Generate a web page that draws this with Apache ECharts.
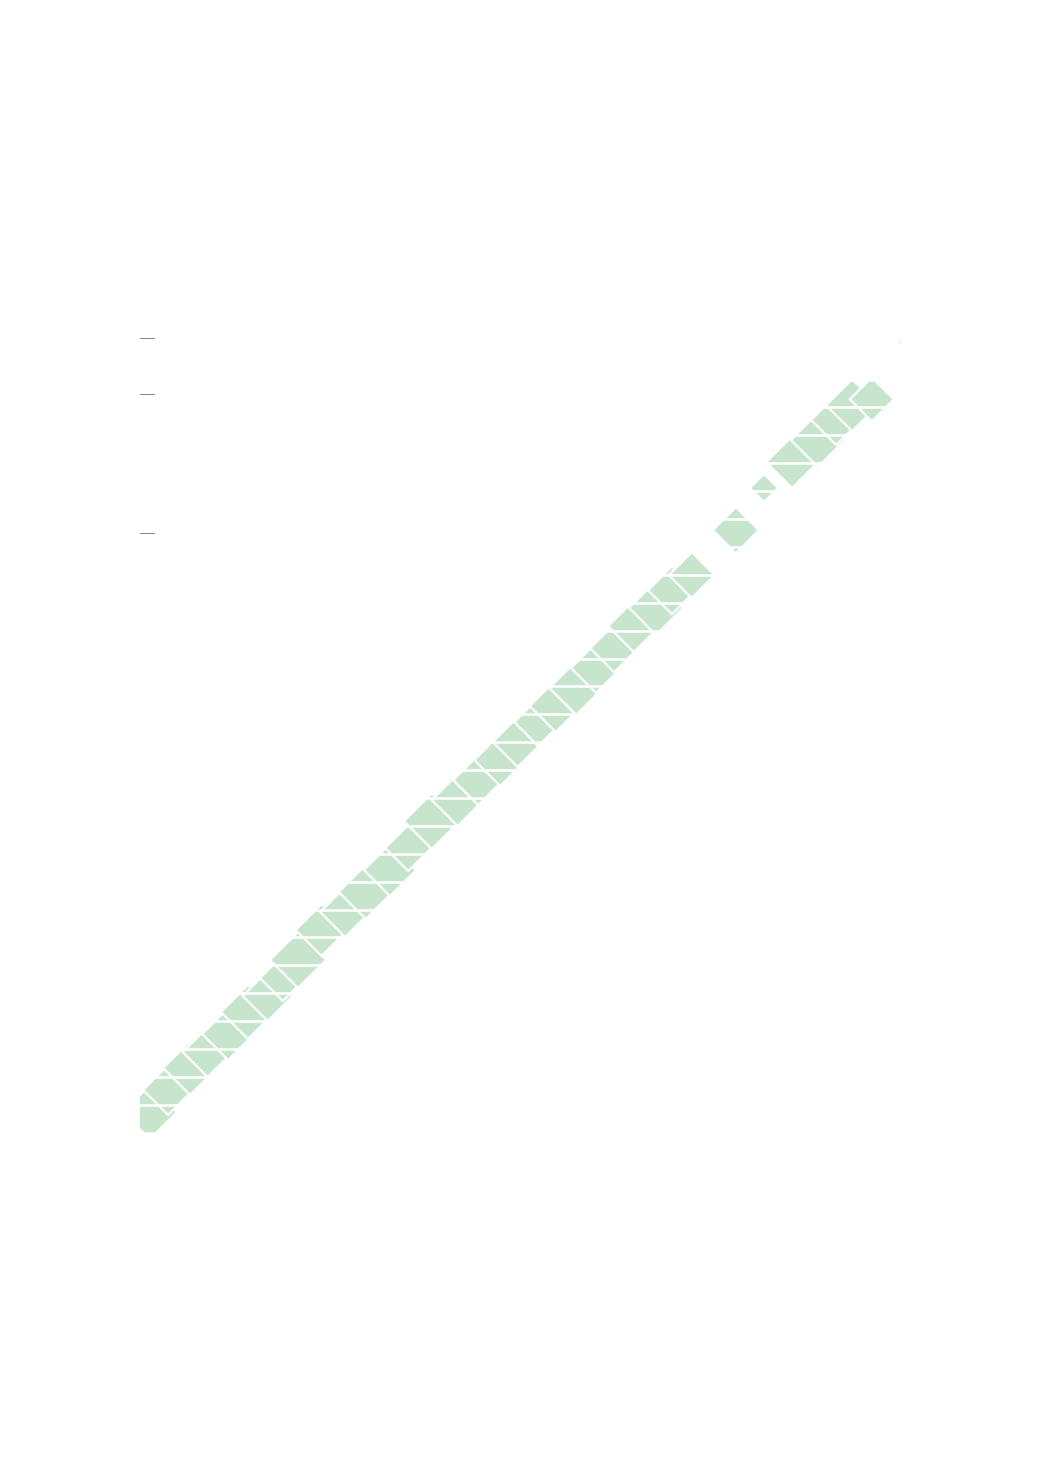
<!DOCTYPE html>
<html>
<head>
<meta charset="utf-8">
<title>Diagonal band</title>
<script src="https://cdn.jsdelivr.net/npm/echarts@6/dist/echarts.min.js"></script>
<style>
  html, body { margin: 0; padding: 0; background: #fff; }
  #chart { width: 1041px; height: 1472px; }
</style>
</head>
<body>
<div id="chart"></div>
<script>
// point positions (x: 0-100, y: 0-28.5)
var pointX = [1.3, 3.7, 6.6, 8.9, 11.6, 14.2, 16.8, 18.8, 20.8, 23.9, 27.0, 29.7, 32.9, 35.3,
    38.4, 41.8, 44.5, 47.4, 49.7, 52.4, 54.7, 57.4, 60.0, 62.4, 65.0, 67.9, 70.0, 72.6,
    78.4, 82.1, 85.8, 89.2, 91.6, 93.7, 96.3, 100];
var pointY = [0.75, 1.54, 2.33, 2.90, 3.55, 4.34, 4.91, 5.56, 6.20, 7.28, 7.92, 8.64, 9.43, 10.22,
    11.18, 11.94, 12.65, 13.37, 14.02, 14.73, 15.31, 15.95, 16.67, 17.38, 18.17, 18.82, 19.46, 20.00,
    21.61, 23.12, 24.05, 24.84, 25.56, 26.09, 26.30, 28.35];
// mark size in pixels
var pointSize = [54, 50, 54, 50, 52, 54, 50, 46, 56, 52, 50, 54, 52, 46,
    56, 52, 50, 52, 50, 48, 52, 54, 50, 48, 52, 54, 48, 46,
    46, 28, 52, 54, 50, 52, 44, 3];
var tickValues = [28.48, 26.5, 21.5];

var data = [];
for (var i = 0; i < pointX.length; i++) {
    data.push([pointX[i], pointY[i], pointSize[i]]);
}

function renderDiamond(params, api) {
    var c = api.coord([api.value(0), api.value(1)]);
    var h = api.value(2) / 2;
    return {
        type: 'polygon',
        shape: {points: [[c[0], c[1] - h], [c[0] + h, c[1]], [c[0], c[1] + h], [c[0] - h, c[1]]]},
        style: {fill: '#c6e5cc', stroke: '#fff', lineWidth: h > 4 ? 2.2 : 0}
    };
}

var chart = echarts.init(document.getElementById('chart'));
chart.setOption({
    animation: false,
    backgroundColor: '#fff',
    grid: {left: 140, right: 141, top: 338, bottom: 339},
    xAxis: {
        type: 'value', min: 0, max: 100,
        axisLine: {show: false}, axisTick: {show: false},
        axisLabel: {show: false}, splitLine: {show: false}
    },
    yAxis: [
        {
            type: 'value', min: 0, max: 28.5,
            z: 11,
            axisLine: {show: false},
            axisLabel: {show: false},
            splitLine: {show: false},
            axisTick: {
                show: true, inside: true, length: 15,
                customValues: tickValues,
                lineStyle: {color: '#888', width: 1}
            }
        },
        {
            // white row separators drawn over the marks
            type: 'value', min: 0, max: 28.5, interval: 1,
            z: 10,
            axisLine: {show: false}, axisTick: {show: false},
            axisLabel: {show: false},
            splitLine: {show: true, lineStyle: {color: '#fff', width: 2.5}}
        }
    ],
    series: [{
        type: 'custom',
        yAxisIndex: 0,
        clip: true,
        silent: true,
        renderItem: renderDiamond,
        encode: {x: 0, y: 1},
        data: data
    }]
});
</script>
</body>
</html>
